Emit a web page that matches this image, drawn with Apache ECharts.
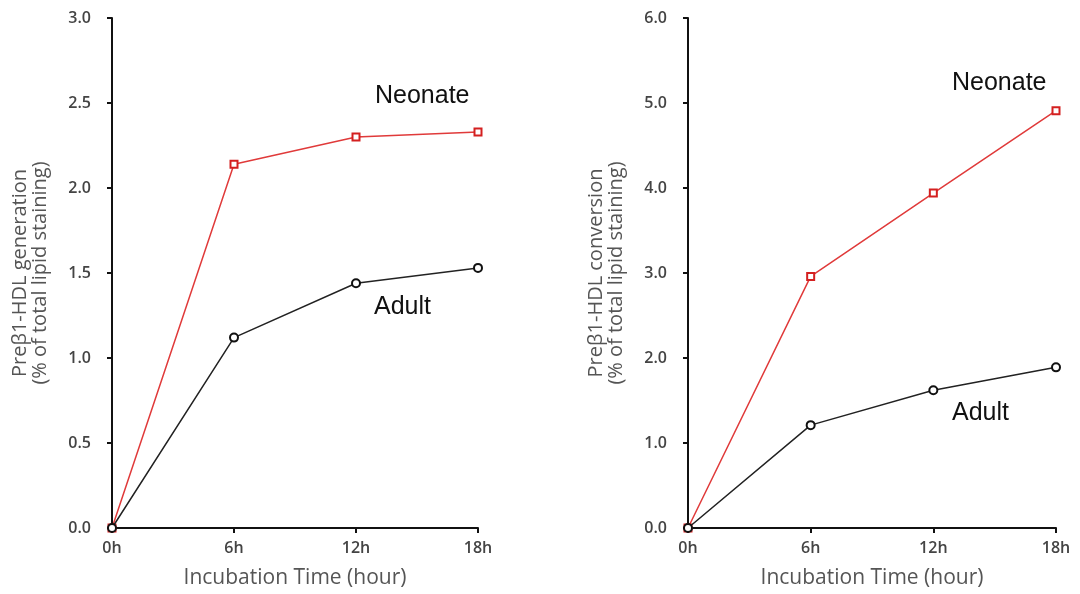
<!DOCTYPE html>
<html><head><meta charset="utf-8">
<script src="https://cdn.jsdelivr.net/npm/echarts@6/dist/echarts.min.js"></script>
<style>html,body{margin:0;padding:0;background:#fff}#c{width:1080px;height:594px}</style>
</head><body><div id="c"></div>
<script>
const xLabels = ['0h', '6h', '12h', '18h'];
const leftNeonate = [0, 2.14, 2.30, 2.33];
const leftAdult = [0, 1.12, 1.44, 1.53];
const rightNeonate = [0, 2.96, 3.94, 4.91];
const rightAdult = [0, 1.21, 1.62, 1.89];
const leftYName = 'Preβ1-HDL generation\n(% of total lipid staining)';
const rightYName = 'Preβ1-HDL conversion\n(% of total lipid staining)';
const xName = 'Incubation Time (hour)';

const chart = echarts.init(document.getElementById('c'));
const labelFont = {fontFamily: 'Open Sans', fontSize: 16, color: '#444', fontWeight: 600};
const nameFont = {fontFamily: 'Open Sans', fontSize: 20, color: '#555', lineHeight: 20};
const xNameFont = {fontFamily: 'Open Sans', fontSize: 21, color: '#555'};
const axisLine = {show: true, lineStyle: {color: '#111', width: 2}};
const axisTick = {show: true, inside: false, length: 5, lineStyle: {color: '#111', width: 2}};

function xAx(i) {
  return {gridIndex: i, type: 'category', data: xLabels, boundaryGap: false,
    axisLine, axisTick: Object.assign({alignWithLabel: true}, axisTick),
    axisLabel: Object.assign({margin: 12}, labelFont),
    name: xName, nameLocation: 'middle', nameGap: 40, nameTextStyle: xNameFont};
}
function yAx(i, max, interval, name) {
  return {gridIndex: i, type: 'value', min: 0, max: max, interval: interval,
    axisLine, axisTick, splitLine: {show: false},
    axisLabel: Object.assign({margin: 21, formatter: v => v.toFixed(1)}, labelFont),
    name: name, nameLocation: 'middle', nameRotate: 90, nameGap: 62, nameTextStyle: nameFont};
}
function neo(i, data) {
  return {type: 'line', xAxisIndex: i, yAxisIndex: i, data: data, symbol: 'rect', symbolSize: 7,
    lineStyle: {color: '#e03a3a', width: 1.5}, itemStyle: {color: '#fff', borderColor: '#d42020', borderWidth: 2},
    z: 2, animation: false};
}
function adu(i, data) {
  return {type: 'line', xAxisIndex: i, yAxisIndex: i, data: data, symbol: 'circle', symbolSize: 8,
    lineStyle: {color: '#222', width: 1.5}, itemStyle: {color: '#fff', borderColor: '#111', borderWidth: 2},
    z: 3, animation: false};
}
const txt = {fontFamily: 'Liberation Sans', fontSize: 25, fill: '#111'};
chart.setOption({
  animation: false,
  grid: [
    {left: 112, right: 602, top: 18, bottom: 66, outerBoundsMode: 'none', containLabel: false},
    {left: 688, right: 24, top: 18, bottom: 66, outerBoundsMode: 'none', containLabel: false}
  ],
  xAxis: [xAx(0), xAx(1)],
  yAxis: [yAx(0, 3, 0.5, leftYName), yAx(1, 6, 1, rightYName)],
  series: [neo(0, leftNeonate), adu(0, leftAdult), neo(1, rightNeonate), adu(1, rightAdult)],
  graphic: [
    {type: 'text', left: 375, top: 84, style: Object.assign({text: 'Neonate'}, txt)},
    {type: 'text', left: 374, top: 295, style: Object.assign({text: 'Adult'}, txt)},
    {type: 'text', left: 952, top: 71, style: Object.assign({text: 'Neonate'}, txt)},
    {type: 'text', left: 952, top: 401, style: Object.assign({text: 'Adult'}, txt)}
  ]
});
</script></body></html>
